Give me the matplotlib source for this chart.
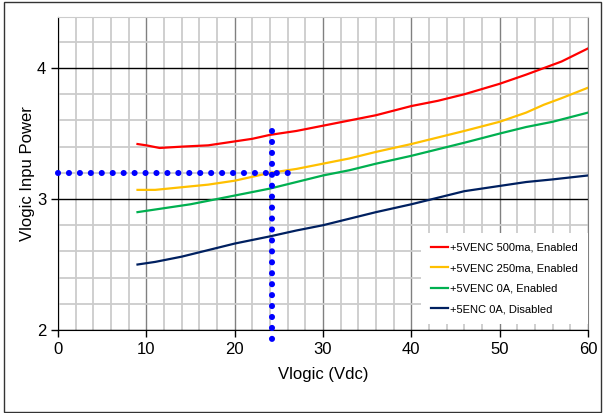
import matplotlib
matplotlib.use("Agg")
import matplotlib.pyplot as plt
from matplotlib.patches import Rectangle
from matplotlib.ticker import MultipleLocator

plt.rcParams['font.family'] = ['Liberation Sans', 'DejaVu Sans']

labels = ["+5VENC 500ma, Enabled", "+5VENC 250ma, Enabled",
          "+5VENC 0A, Enabled", "+5ENC 0A, Disabled"]
colors = ["#FF0000", "#FFC000", "#00B050", "#002060"]

red_x = [9, 10, 11.5, 14, 17, 20, 22, 24, 27, 30, 33, 36, 40, 43, 46, 50, 53, 55, 57, 60]
red_y = [3.42, 3.41, 3.39, 3.40, 3.41, 3.44, 3.46, 3.49, 3.52, 3.56, 3.60, 3.64, 3.71, 3.75, 3.80, 3.88, 3.95, 4.0, 4.05, 4.15]
yel_x = [9, 11, 14, 17, 20, 22, 24, 27, 30, 33, 36, 40, 43, 46, 50, 53, 55, 57, 60]
yel_y = [3.07, 3.07, 3.09, 3.11, 3.14, 3.17, 3.20, 3.23, 3.27, 3.31, 3.36, 3.42, 3.47, 3.52, 3.59, 3.66, 3.72, 3.77, 3.85]
grn_x = [9, 12, 15, 18, 21, 24, 27, 30, 33, 36, 40, 43, 46, 50, 53, 56, 60]
grn_y = [2.90, 2.93, 2.96, 3.00, 3.04, 3.08, 3.13, 3.18, 3.22, 3.27, 3.33, 3.38, 3.43, 3.50, 3.55, 3.59, 3.66]
nav_x = [9, 11, 14, 17, 20, 24, 27, 30, 33, 36, 40, 43, 46, 50, 53, 56, 60]
nav_y = [2.50, 2.52, 2.56, 2.61, 2.66, 2.715, 2.76, 2.80, 2.85, 2.90, 2.96, 3.01, 3.06, 3.10, 3.13, 3.15, 3.18]

hdot_x = [0, 26.5]
hdot_y = [3.2, 3.2]
vdot_x = [24.2, 24.2]
vdot_y = [3.52, 1.93]

series = [(red_x, red_y), (yel_x, yel_y), (grn_x, grn_y), (nav_x, nav_y)]

fig = plt.figure(figsize=(6.05, 4.13), dpi=100)
ax = fig.add_axes([58/605, 1-330/413, 530/605, 313/413])
ax.set_xlim(0, 60)
ax.set_ylim(2, 4.39)

ax.xaxis.set_major_locator(MultipleLocator(10))
ax.xaxis.set_minor_locator(MultipleLocator(2))
ax.yaxis.set_major_locator(MultipleLocator(1))
ax.yaxis.set_minor_locator(MultipleLocator(0.2))

ax.grid(which='minor', color='#cccccc', linewidth=1.3)
ax.grid(which='major', axis='x', color='#808080', linewidth=1.0)
ax.grid(which='major', axis='y', color='#000000', linewidth=1.0)
ax.set_axisbelow(True)

ax.tick_params(which='minor', length=0)
ax.tick_params(which='major', length=5, width=1, labelsize=12, color='black')
for s in ['left', 'bottom']:
    ax.spines[s].set_color('black')
ax.spines['top'].set_color('#cccccc')
ax.spines['right'].set_color('#808080')

for (xs, ys), c, lab in zip(series, colors, labels):
    ax.plot(xs, ys, color=c, linewidth=1.6, label=lab)

dot_style = (0, (0.01, 1.78))
ax.plot(hdot_x, hdot_y, color='#0000FF', linewidth=4.4, linestyle=dot_style,
        dash_capstyle='round', clip_on=False, zorder=5)
ax.plot(vdot_x, vdot_y, color='#0000FF', linewidth=4.4, linestyle=dot_style,
        dash_capstyle='round', clip_on=False, zorder=5)

ax.set_xlabel("Vlogic (Vdc)", fontsize=12, labelpad=7)
ax.set_ylabel("Vlogic Inpu Power", fontsize=12, labelpad=1)

leg = ax.legend(loc='lower right', bbox_to_anchor=(1.0, 0.018), borderaxespad=0,
                fontsize=8, frameon=True, fancybox=False, framealpha=1,
                edgecolor='none', facecolor='white', handlelength=1.6,
                handletextpad=0.15, labelspacing=0.95, borderpad=0.9)

fig.patches.append(Rectangle((4/605, 1/413), 597/605, 410/413, transform=fig.transFigure,
                             fill=False, edgecolor='#333333', linewidth=1.0))

fig.savefig("out.png", dpi=100)
